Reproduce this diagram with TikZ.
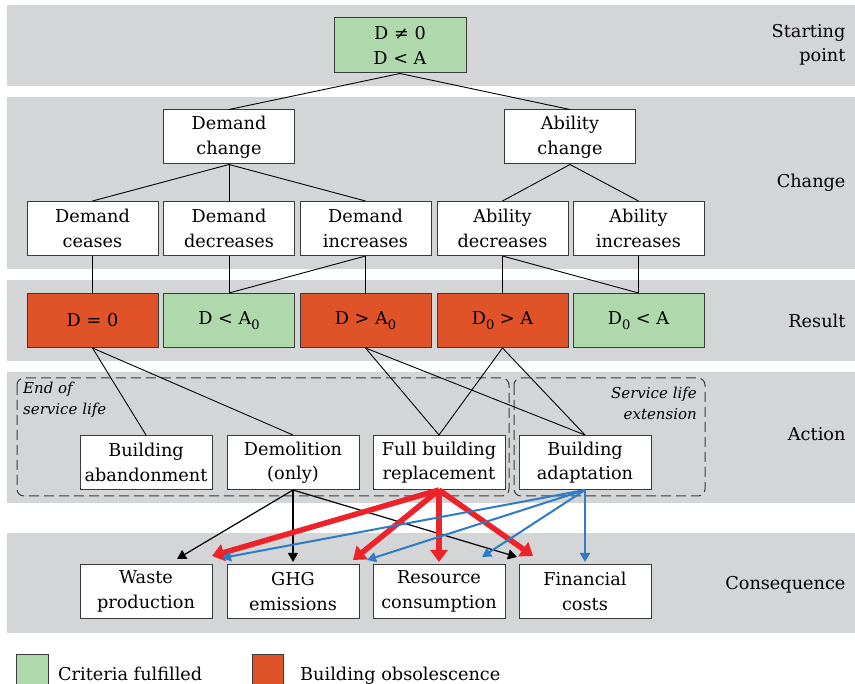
\documentclass[tikz,border=0pt]{standalone}
\usepackage{fontspec}
\setmainfont{DejaVu Serif}
\usetikzlibrary{arrows.meta}
\definecolor{bandgray}{HTML}{D4D5D7}
\definecolor{okgreen}{HTML}{B0D8AD}
\definecolor{obsorange}{HTML}{E05228}
\definecolor{redarrow}{HTML}{EE2229}
\definecolor{bluearrow}{HTML}{2F7CC4}
\definecolor{boxline}{HTML}{3A3A3A}
% lowered zero used as an index
\newcommand{\idxzero}{\raisebox{-0.28em}{\fontsize{13}{13}\selectfont 0}}
\begin{document}
\begin{tikzpicture}[x=1pt,y=-1pt,
  every node/.style={font=\fontsize{17.7}{24.5}\selectfont},
  box/.style={draw=boxline,line width=1pt,fill=white,minimum width=131pt,
    minimum height=54pt,align=center,inner sep=0pt},
  okbox/.style={box,fill=okgreen},
  obsbox/.style={box,fill=obsorange},
  band/.style={fill=bandgray,draw=none},
  bandlabel/.style={anchor=east,align=right},
  link/.style={draw=black,line width=0.9pt},
  groupbox/.style={draw=boxline,line width=1pt,rounded corners=7pt,dash pattern=on 10pt off 5pt},
  grouplabel/.style={font=\fontsize{15}{21}\selectfont\itshape,inner sep=0pt},
  blkarrow/.style={draw=black,line width=1.2pt,-{Triangle[length=9pt,width=10pt]}},
  redarr/.style={draw=redarrow,line width=5.5pt,-{Triangle[length=12pt,width=17pt]}},
  bluearr/.style={draw=bluearrow,line width=2pt,-{Triangle[length=9pt,width=10pt]}}]

\useasboundingbox (0,0) rectangle (855,684);
\fill[white] (0,0) rectangle (855,684);

% horizontal bands
\path[band] (7,5) rectangle (855,86);
\path[band] (7,97) rectangle (855,269);
\path[band] (7,280) rectangle (855,361);
\path[band] (7,372) rectangle (855,503);
\path[band] (7,533) rectangle (855,633);

% band labels
\node[bandlabel] (lblstart) at (849,45) {Starting\\point};
\node[bandlabel] (lblchange) at (849,183) {Change};
\node[bandlabel] (lblresult) at (849,321) {Result};
\node[bandlabel] (lblaction) at (849,434) {Action};
\node[bandlabel] (lblcons) at (849,585) {Consequence};

% action groups
\draw[groupbox] (17,378) rectangle (509,496);
\draw[groupbox] (514,378) rectangle (705,496);
\node[grouplabel,anchor=north west,align=left] (eosl) at (23,382) {End of\\service life};
\node[grouplabel,anchor=north east,align=right] (sle) at (697,387) {Service life\\extension};

% starting point
\node[okbox,minimum width=132pt,minimum height=55pt] (start) at (400,45.5) {D ≠ 0\\D < A};

% change
\node[box] (dch) at (229,137) {Demand\\change};
\node[box] (ach) at (570,137) {Ability\\change};
\node[box] (dcease) at (92.5,228.5) {Demand\\ceases};
\node[box] (ddec) at (229,228.5) {Demand\\decreases};
\node[box] (dinc) at (365.5,228.5) {Demand\\increases};
\node[box] (adec) at (502.5,228.5) {Ability\\decreases};
\node[box] (ainc) at (638.5,228.5) {Ability\\increases};

% result
\node[obsbox] (rzero) at (92.5,320.5) {D = 0};
\node[okbox] (rdlt) at (229,320.5) {D < A\idxzero};
\node[obsbox] (rdgt) at (365.5,320.5) {D > A\idxzero};
\node[obsbox] (ragt) at (502.5,320.5) {D\idxzero\ > A};
\node[okbox] (ralt) at (638.5,320.5) {D\idxzero\ < A};

% action
\node[box,minimum width=132pt] (aband) at (146,462.5) {Building\\abandonment};
\node[box,minimum width=132pt] (ademol) at (293,462.5) {Demolition\\(only)};
\node[box,minimum width=132pt] (arepl) at (439,462.5) {Full building\\replacement};
\node[box,minimum width=132pt] (aadapt) at (585,462.5) {Building\\adaptation};

% consequence
\node[box,minimum width=132pt] (cwaste) at (146,591.5) {Waste\\production};
\node[box,minimum width=132pt] (cghg) at (293,591.5) {GHG\\emissions};
\node[box,minimum width=132pt] (cres) at (439,591.5) {Resource\\consumption};
\node[box,minimum width=132pt] (cfin) at (585,591.5) {Financial\\costs};

% tree links
\draw[link] (start.south) -- (dch.north);
\draw[link] (start.south) -- (ach.north);
\draw[link] (dch.south) -- (dcease.north);
\draw[link] (dch.south) -- (ddec.north);
\draw[link] (dch.south) -- (dinc.north);
\draw[link] (ach.south) -- (adec.north);
\draw[link] (ach.south) -- (ainc.north);
\draw[link] (dcease.south) -- (rzero.north);
\draw[link] (ddec.south) -- (rdlt.north);
\draw[link] (dinc.south) -- (rdlt.north);
\draw[link] (dinc.south) -- (rdgt.north);
\draw[link] (adec.south) -- (ragt.north);
\draw[link] (adec.south) -- (ralt.north);
\draw[link] (ainc.south) -- (ralt.north);
\draw[link] (rzero.south) -- (aband.north);
\draw[link] (rzero.south) -- (ademol.north);
\draw[link] (rdgt.south) -- (arepl.north);
\draw[link] (rdgt.south) -- (aadapt.north);
\draw[link] (ragt.south) -- (arepl.north);
\draw[link] (ragt.south) -- (aadapt.north);

% arrow tips above the consequence boxes
\coordinate (kwaste) at (177,559);
\coordinate (kghg) at (293,562);
\coordinate (kfin) at (517,557);
\coordinate (rwaste) at (212,556);
\coordinate (rghg) at (353,560);
\coordinate (rres) at (439,562);
\coordinate (rfin) at (533,556);
\coordinate (bwaste) at (222,558);
\coordinate (bghg) at (367,560);
\coordinate (bres) at (482,557);
\coordinate (bfin) at (585,562);

% demolition
\draw[blkarrow] (ademol.south) -- (kwaste);
\draw[blkarrow] (ademol.south) -- (kghg);
\draw[blkarrow] (ademol.south) -- (kfin);
% full replacement
\draw[redarr] (arepl.south) -- (rwaste);
\draw[redarr] (arepl.south) -- (rghg);
\draw[redarr] (arepl.south) -- (rres);
\draw[redarr] (arepl.south) -- (rfin);
% adaptation
\draw[bluearr] (aadapt.south) -- (bwaste);
\draw[bluearr] (aadapt.south) -- (bghg);
\draw[bluearr] (aadapt.south) -- (bres);
\draw[bluearr] (aadapt.south) -- (bfin);

% legend
\draw[draw=boxline,line width=1pt,fill=okgreen] (16,654) rectangle (48,690);
\node[anchor=base west,inner sep=0pt] (legok) at (58,680) {Criteria fulfilled};
\draw[draw=boxline,line width=1pt,fill=obsorange] (252,654) rectangle (283,690);
\node[anchor=base west,inner sep=0pt] (legobs) at (300,680) {Building obsolescence};
\end{tikzpicture}
\end{document}
